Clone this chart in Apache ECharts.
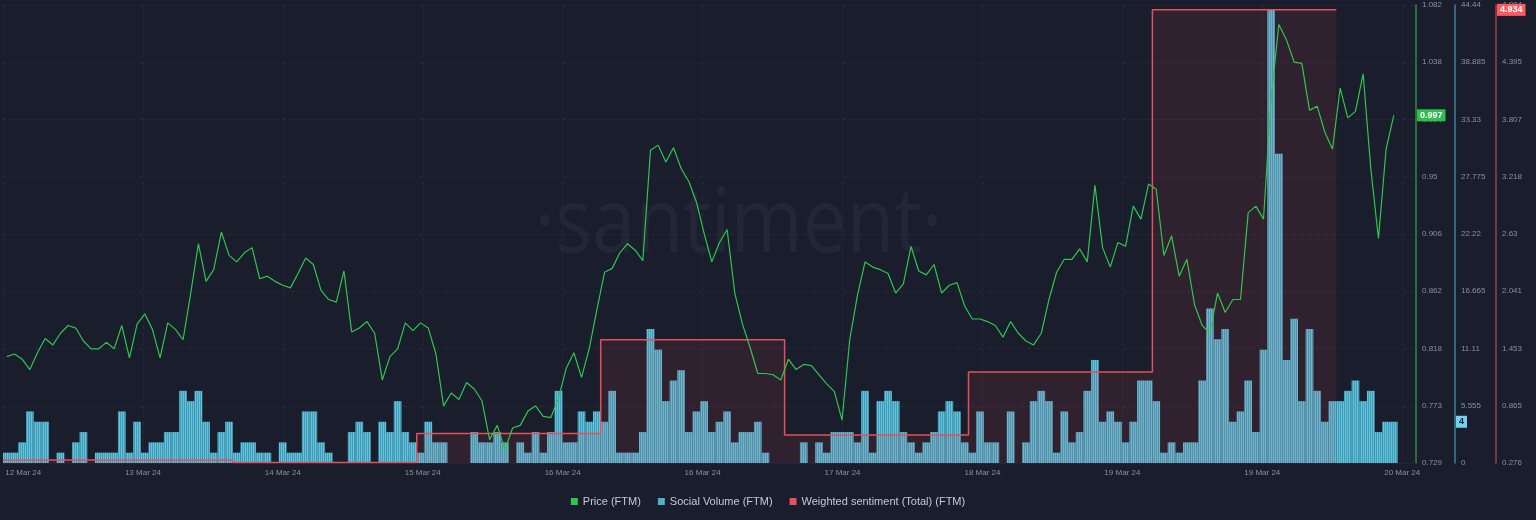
<!DOCTYPE html>
<html>
<head>
<meta charset="utf-8">
<title>FTM price / social volume / sentiment</title>
<script src="https://cdn.jsdelivr.net/npm/echarts@6/dist/echarts.min.js"></script>
<style>
    html, body {
        margin: 0;
        padding: 0;
        background: #1a1d2b;
    }
    #chart {
        width: 1536px;
        height: 520px;
    }
</style>
</head>
<body>
<div id="chart"></div>
<script>
// x labels, evenly spaced along the time axis
const xLabels = ["12 Mar 24", "13 Mar 24", "14 Mar 24", "15 Mar 24", "16 Mar 24", "16 Mar 24",
    "17 Mar 24", "18 Mar 24", "19 Mar 24", "19 Mar 24", "20 Mar 24"];

// right hand tick labels
const priceTicks = ["0.729", "0.773", "0.818", "0.862", "0.906", "0.95", "0.994", "1.038", "1.082"];
const volumeTicks = ["0", "5.555", "11.11", "16.665", "22.22", "27.775", "33.33", "38.885", "44.44"];
const sentimentTicks = ["0.276", "0.865", "1.453", "2.041", "2.63", "3.218", "3.807", "4.395", "4.984"];

// hourly price (FTM), hour 0 .. 181
const price = [
    0.811, 0.813, 0.809, 0.801, 0.814, 0.825, 0.820, 0.829, 0.835, 0.833,
    0.823, 0.817, 0.817, 0.822, 0.817, 0.835, 0.810, 0.836, 0.844, 0.832,
    0.810, 0.837, 0.832, 0.824, 0.860, 0.898, 0.869, 0.878, 0.907, 0.889,
    0.884, 0.891, 0.895, 0.871, 0.873, 0.869, 0.866, 0.864, 0.875, 0.887,
    0.882, 0.862, 0.855, 0.853, 0.877, 0.830, 0.833, 0.838, 0.829, 0.793,
    0.811, 0.817, 0.837, 0.831, 0.837, 0.833, 0.813, 0.773, 0.783, 0.778,
    0.791, 0.786, 0.777, 0.747, 0.758, 0.739, 0.756, 0.758, 0.769, 0.773,
    0.765, 0.764, 0.779, 0.802, 0.814, 0.795, 0.817, 0.847, 0.876, 0.879,
    0.891, 0.898, 0.893, 0.885, 0.970, 0.974, 0.961, 0.972, 0.956, 0.946,
    0.930, 0.906, 0.884, 0.899, 0.909, 0.860, 0.836, 0.818, 0.798, 0.798,
    0.797, 0.793, 0.809, 0.801, 0.805, 0.804, 0.797, 0.790, 0.784, 0.762,
    0.824, 0.858, 0.884, 0.880, 0.878, 0.875, 0.860, 0.867, 0.896, 0.877,
    0.874, 0.882, 0.860, 0.866, 0.868, 0.850, 0.840, 0.840, 0.838, 0.835,
    0.826, 0.838, 0.829, 0.823, 0.820, 0.829, 0.855, 0.876, 0.886, 0.886,
    0.894, 0.884, 0.943, 0.895, 0.880, 0.899, 0.896, 0.927, 0.917, 0.944,
    0.940, 0.889, 0.904, 0.873, 0.886, 0.851, 0.835, 0.829, 0.860, 0.845,
    0.855, 0.855, 0.922, 0.927, 0.917, 1.010, 1.067, 1.055, 1.038, 1.037,
    1.001, 1.004, 0.984, 0.971, 1.018, 0.995, 1.000, 1.029, 0.956, 0.902,
    0.971, 0.997
];

// hourly social volume, hour 0 .. 181
const socialVolume = [
    1, 1, 2, 5, 4, 4, 0, 1, 0, 2,
    3, 0, 1, 1, 1, 5, 1, 4, 1, 2,
    2, 3, 3, 7, 6, 7, 4, 1, 3, 4,
    1, 2, 2, 1, 1, 0, 2, 1, 1, 5,
    5, 2, 1, 0, 0, 3, 4, 3, 0, 4,
    3, 6, 3, 2, 1, 4, 2, 2, 0, 0,
    0, 3, 2, 2, 3, 2, 0, 2, 1, 3,
    1, 3, 7, 2, 2, 5, 4, 5, 4, 7,
    1, 1, 1, 3, 13, 11, 6, 8, 9, 3,
    5, 6, 3, 4, 5, 2, 3, 3, 4, 1,
    0, 0, 0, 0, 2, 0, 2, 1, 3, 3,
    3, 2, 7, 1, 6, 7, 6, 3, 2, 1,
    2, 3, 5, 6, 5, 2, 1, 5, 2, 2,
    0, 5, 0, 2, 6, 7, 6, 1, 5, 2,
    3, 7, 10, 4, 5, 4, 2, 4, 8, 8,
    6, 1, 2, 1, 2, 2, 8, 15, 12, 13,
    4, 5, 8, 3, 11, 44, 30, 10, 14, 6,
    13, 7, 4, 6, 6, 7, 8, 6, 7, 3,
    4, 4
];

// daily weighted sentiment, steps at these hours
const sentimentHours = [0, 30, 54, 78, 102, 126, 150, 174];
const sentimentValues = [0.307, 0.28, 0.578, 1.543, 0.565, 1.212, 4.934, 4.934];

const xMax = 184.4;
const xStep = 18.26;

const colors = {
    price: "#2ec64f",
    volume: "#5cc6e0",
    sentiment: "#e4505b",
    label: "#8a8fa2",
    grid: "#262a3b",
};

const priceMin = 0.729, priceMax = 1.082;
const volMin = 0, volMax = 44.44;
const sentMin = 0.276, sentMax = 4.984;

function tickFormatter(list, min, max) {
    const step = (max - min) / 8;
    return (v) => {
        const k = Math.round((v - min) / step);
        return list[k] === undefined ? "" : list[k];
    };
}

function rightAxis(min, max, ticks, offset, lineColor, split) {
    return {
        type: "value",
        position: "right",
        offset: offset,
        min: min,
        max: max,
        interval: (max - min) / 8,
        axisLine: { show: true, onZero: false, lineStyle: { color: lineColor, width: 1.5 } },
        axisTick: { show: false },
        splitLine: {
            show: split,
            lineStyle: { color: colors.grid, type: [4, 4] },
        },
        axisLabel: {
            color: colors.label,
            fontSize: 8,
            fontFamily: "Liberation Sans",
            margin: 6,
            formatter: tickFormatter(ticks, min, max),
        },
    };
}

const priceData = price.map((p, i) => [i + 0.5, p]);
const volumeData = socialVolume.map((v, i) => [i + 0.5, v]);
const sentimentData = sentimentHours.map((h, i) => [h, sentimentValues[i]]);

const chart = echarts.init(document.getElementById("chart"));
const gridRight = 120;
const plotWidth = 1536 - gridRight;

const option = {
    backgroundColor: "#1a1d2b",
    animation: false,
    grid: {
        left: 0,
        right: gridRight,
        top: 5,
        bottom: 57,
    },
    legend: {
        bottom: 8,
        left: "center",
        icon: "rect",
        itemWidth: 7,
        itemHeight: 7,
        itemGap: 17,
        textStyle: {
            color: "#c5c9d6",
            fontSize: 11,
            fontFamily: "Liberation Sans",
        },
        data: ["Price (FTM)", "Social Volume (FTM)", "Weighted sentiment (Total) (FTM)"],
    },
    xAxis: {
        type: "value",
        min: 0,
        max: xMax,
        interval: xStep,
        axisLine: { show: true, onZero: false, lineStyle: { color: "#22263a" } },
        axisTick: { show: false },
        splitLine: {
            show: true,
            lineStyle: { color: colors.grid, type: [4, 4] },
        },
        axisLabel: {
            color: colors.label,
            fontSize: 8,
            fontFamily: "Liberation Sans",
            margin: 6,
            showMaxLabel: false,
            alignMinLabel: "left",
            formatter: (v) => {
                const k = Math.round(v / xStep);
                if (Math.abs(v / xStep - k) > 0.01) return "";
                return k === 0 ? " " + xLabels[k] : (xLabels[k] || "");
            },
        },
    },
    yAxis: [
        rightAxis(priceMin, priceMax, priceTicks, 0, "#2c8a40", true),
        rightAxis(volMin, volMax, volumeTicks, 39, "#3b7f9b", false),
        rightAxis(sentMin, sentMax, sentimentTicks, 80, "#a33a44", false),
    ],
    series: [
        {
            name: "Social Volume (FTM)",
            type: "bar",
            yAxisIndex: 1,
            barWidth: plotWidth / xMax,
            data: volumeData,
            itemStyle: {
                color: colors.volume,
                decal: {
                    symbol: "rect",
                    symbolSize: 1,
                    dashArrayX: [1, 1],
                    dashArrayY: [4, 0],
                    color: "rgba(40,70,95,0.35)",
                },
            },
        },
        {
            name: "Weighted sentiment (Total) (FTM)",
            type: "line",
            yAxisIndex: 2,
            step: "end",
            symbol: "none",
            data: sentimentData,
            itemStyle: { color: colors.sentiment },
            lineStyle: { color: colors.sentiment, width: 1.5 },
            areaStyle: { color: "rgba(224,72,86,0.17)", origin: "start" },
        },
        {
            name: "Price (FTM)",
            type: "line",
            yAxisIndex: 0,
            symbol: "none",
            data: priceData,
            itemStyle: { color: colors.price },
            lineStyle: { color: colors.price, width: 1.2 },
        },
    ],
};

chart.setOption(option);

/** latest value badges on each right axis */
function badge(axisIndex, value, text, axisX, bg, fg) {
    const y = chart.convertToPixel({ yAxisIndex: axisIndex }, value);
    return {
        type: "text",
        z: 100,
        x: axisX + 1,
        y: y,
        style: {
            text: text,
            fill: fg,
            backgroundColor: bg,
            padding: [2, 3, 1, 3],
            font: "bold 9px Liberation Sans",
            verticalAlign: "middle",
        },
    };
}

// watermark: squeeze the word to the reference width
const wmFont = "90px 'Open Sans'";
const ctx = document.createElement("canvas").getContext("2d");
ctx.font = wmFont;
const wordW = ctx.measureText("santiment").width;
const dotW = ctx.measureText("·").width;
const wmScale = 367 / wordW;

const lastPrice = price[price.length - 1];
const lastVolume = socialVolume[socialVolume.length - 1];
const lastSentiment = sentimentValues[sentimentValues.length - 1];

chart.setOption({
    graphic: [
        {
            type: "text",
            z: -1,
            silent: true,
            x: 555 - dotW * wmScale,
            y: 181,
            scaleX: wmScale,
            style: {
                text: "·santiment·",
                fill: "rgba(255,255,255,0.042)",
                font: wmFont,
                verticalAlign: "top",
            },
        },
        badge(0, lastPrice, lastPrice.toFixed(3), plotWidth, "#2fbf4c", "#ffffff"),
        badge(1, lastVolume, String(lastVolume), plotWidth + 39, "#6fd2ef", "#1a1d2b"),
        badge(2, lastSentiment, lastSentiment.toFixed(3), plotWidth + 80, "#ff5a5f", "#ffffff"),
    ],
});
</script>
</body>
</html>
